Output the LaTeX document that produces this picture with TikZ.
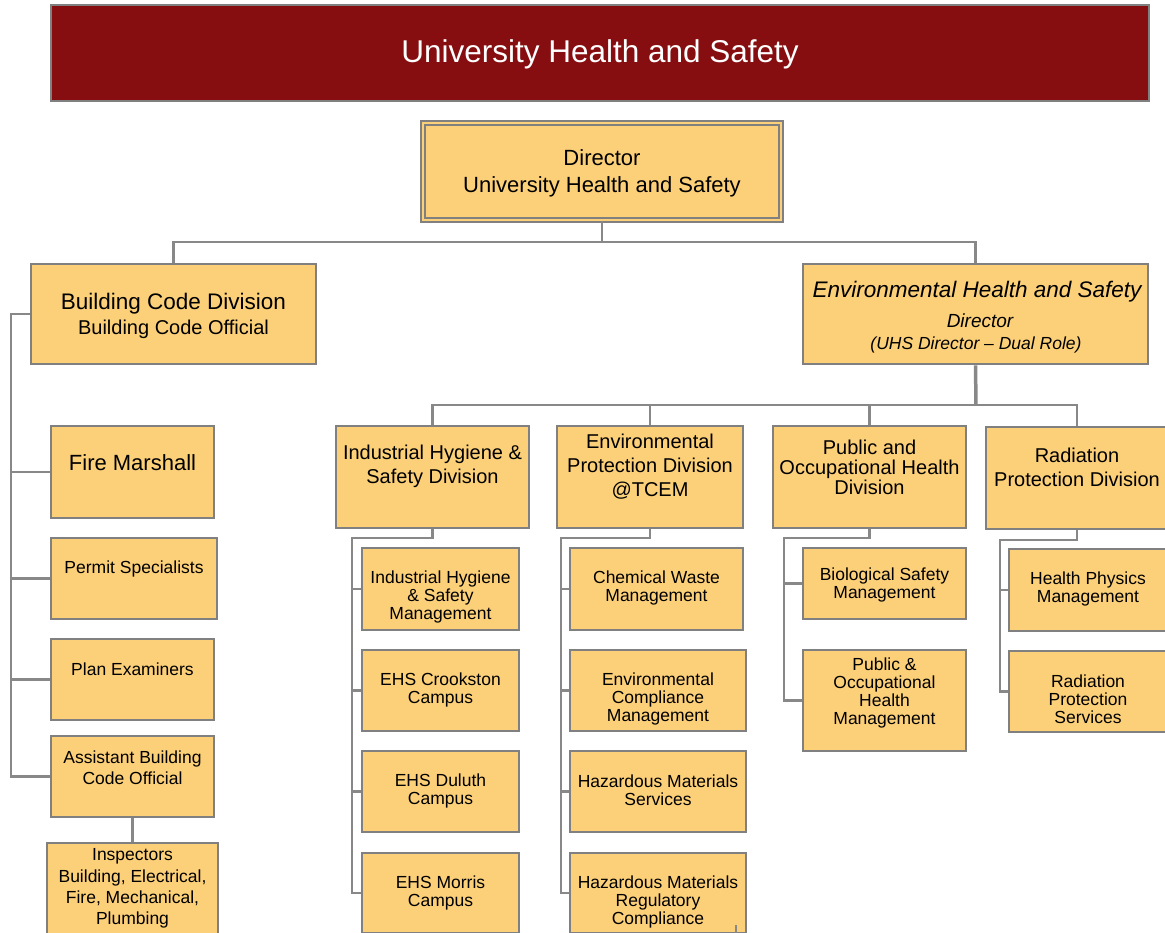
\documentclass[tikz,border=0pt]{standalone}
\usepackage{fontspec}
\setmainfont{Liberation Sans}
\usetikzlibrary{fit}
\definecolor{boxfill}{RGB}{252,208,121}
\definecolor{boxline}{RGB}{128,128,128}
\definecolor{conncol}{RGB}{136,136,136}
\definecolor{titlered}{RGB}{134,14,16}
\tikzset{
  box/.style={draw=boxline, line width=2.6pt, fill=boxfill, inner sep=0pt},
  conn/.style={draw=conncol, line width=2.6pt},
  txt/.style={align=center, text=black, inner sep=0pt, yshift=-2.5pt},
  fsmall/.style={font=\fontsize{17.5}{18}\selectfont},
  fdiv/.style={font=\fontsize{20}{24}\selectfont},
}
\newcommand\obox[5]{\node[box, fit={(#2,#3) (#4,#5)}] (#1) {};}
\begin{document}
\begin{tikzpicture}[x=1pt,y=-1pt]
\useasboundingbox (0,0) rectangle (1165,932);
\clip (0,0) rectangle (1165,932);
% title
\node[draw=boxline, line width=2pt, fill=titlered, inner sep=0pt, fit={(51,5) (1149,101)}] (title) {};
\node[txt, text=white, font=\fontsize{31.5}{36}\selectfont] (titletxt) at (600,52) {University Health and Safety};
% director
\node[draw=boxline, line width=1.6pt, double=boxfill, double distance=2.2pt, fill=boxfill, inner sep=0pt, fit={(423,123) (781,220)}] (dir) {};
\node[txt, font=\fontsize{22}{27}\selectfont] (dirtxt) at (602,170.5) {Director\\University Health and Safety};
% level 1
\obox{bcd}{31}{264}{316}{364}
\node[txt, font=\fontsize{22.5}{27}\selectfont] (bcdt1) at (173.5,301) {Building Code Division};
\node[txt, font=\fontsize{20}{24}\selectfont] (bcdt2) at (173.5,327) {Building Code Official};
\obox{ehs}{803}{264}{1148}{364}
\node[txt, font=\fontsize{22.5}{27}\selectfont\itshape] (ehst1) at (977,289) {Environmental Health and Safety};
\node[txt, font=\fontsize{19}{23}\selectfont\itshape] (ehst2) at (980,318) {Director};
\node[txt, font=\fontsize{17.5}{21}\selectfont\itshape] (ehst3) at (976,342) {(UHS Director – Dual Role)};
\coordinate (b1) at (602,242);
\draw[conn] (dir.south) -- (b1);
\draw[conn] (bcd.north) |- (b1) -| (ehs.north);
% building code branch
\obox{fm}{51}{426}{214}{518}
\node[txt, font=\fontsize{22}{26}\selectfont] (fmt) at (132.5,460) {Fire Marshall};
\obox{ps}{51}{538}{217}{619}
\node[txt, fsmall] (pst) at (134,566) {Permit Specialists};
\obox{pe}{51}{639}{214}{720}
\node[txt, fsmall] (pet) at (132.5,667) {Plan Examiners};
\obox{abco}{51}{736}{214}{817}
\node[txt, font=\fontsize{17.5}{21}\selectfont] (abcot) at (132.5,765.5) {Assistant Building\\Code Official};
\obox{insp}{47}{843}{218}{945}
\node[txt, font=\fontsize{17.5}{21.3}\selectfont] (inspt) at (132.5,886) {Inspectors\\Building, Electrical,\\Fire, Mechanical,\\Plumbing};
\coordinate (lv) at (11,314);
\draw[conn] (bcd.west) -- (lv) |- (abco.west);
\draw[conn] (lv |- fm.west) -- (fm.west);
\draw[conn] (lv |- ps.west) -- (ps.west);
\draw[conn] (lv |- pe.west) -- (pe.west);
\draw[conn] (abco.south) -- (insp.north);
% divisions
\obox{ihs}{336}{426}{529}{528}
\node[txt, fdiv] (ihst) at (432.5,464) {Industrial Hygiene \&\\Safety Division};
\obox{epd}{557}{426}{743}{528}
\node[txt, fdiv] (epdt) at (650,464) {Environmental\\Protection Division\\@TCEM};
\obox{pohd}{773}{426}{966}{528}
\node[txt, font=\fontsize{20}{20}\selectfont] (pohdt) at (869.5,465) {Public and\\Occupational Health\\Division};
\obox{rpd}{986}{427}{1168}{529}
\node[txt, fdiv] (rpdt) at (1077,465) {Radiation\\Protection Division};
\coordinate (b2) at (976,405);
\draw[conn, line width=3.5pt] (ehs.south) -- (b2);
\draw[conn] (ihs.north) |- (b2) -| (rpd.north);
\draw[conn] (epd.north) -- (epd.north |- b2);
\draw[conn] (pohd.north) -- (pohd.north |- b2);
% IHS sub
\obox{ihsm}{362}{548}{519}{630}
\node[txt, fsmall] (ihsmt) at (440.5,594) {Industrial Hygiene\\\& Safety\\Management};
\obox{crk}{362}{650}{519}{731}
\node[txt, fsmall] (crkt) at (440.5,687) {EHS Crookston\\Campus};
\obox{dul}{362}{751}{519}{832}
\node[txt, fsmall] (dult) at (440.5,788) {EHS Duluth\\Campus};
\obox{mor}{362}{853}{519}{933}
\node[txt, fsmall] (mort) at (440.5,890) {EHS Morris\\Campus};
\coordinate (v1) at (352,538);
\draw[conn] (ihs.south) |- (v1) |- (mor.west);
\draw[conn] (v1 |- ihsm.west) -- (ihsm.west);
\draw[conn] (v1 |- crk.west) -- (crk.west);
\draw[conn] (v1 |- dul.west) -- (dul.west);
% EPD sub
\obox{cwm}{570}{548}{743}{630}
\node[txt, fsmall] (cwmt) at (656.5,585) {Chemical Waste\\Management};
\obox{ecm}{570}{650}{746}{731}
\node[txt, fsmall] (ecmt) at (658,696) {Environmental\\Compliance\\Management};
\obox{hms}{570}{751}{746}{832}
\node[txt, fsmall] (hmst) at (658,788) {Hazardous Materials\\Services};
\obox{hmrc}{570}{853}{746}{933}
\node[txt, fsmall] (hmrct) at (658,899) {Hazardous Materials\\Regulatory\\Compliance};
\coordinate (v2) at (561,538);
\draw[conn] (epd.south) |- (v2) |- (hmrc.west);
\draw[conn] (v2 |- cwm.west) -- (cwm.west);
\draw[conn] (v2 |- ecm.west) -- (ecm.west);
\draw[conn] (v2 |- hms.west) -- (hms.west);
\coordinate (stubtop) at (736,925);
\coordinate (stubbot) at (736,940);
\draw[conn, line width=1.5pt] (stubtop) -- (stubbot);
% POHD sub
\obox{bio}{803}{548}{966}{619}
\node[txt, fsmall] (biot) at (884.5,582) {Biological Safety\\Management};
\obox{pohm}{803}{650}{966}{751}
\node[txt, fsmall] (pohmt) at (884.5,690) {Public \&\\Occupational\\Health\\Management};
\coordinate (v3) at (784,538);
\draw[conn] (pohd.south) |- (v3) |- (pohm.west);
\draw[conn] (v3 |- bio.west) -- (bio.west);
% RPD sub
\obox{hpm}{1009}{549}{1170}{631}
\node[txt, fsmall] (hpmt) at (1088,586) {Health Physics\\Management};
\obox{rps}{1009}{651}{1170}{732}
\node[txt, fsmall] (rpst) at (1088,697) {Radiation\\Protection\\Services};
\coordinate (v4) at (1000,540);
\draw[conn] (rpd.south) |- (v4) |- (rps.west);
\draw[conn] (v4 |- hpm.west) -- (hpm.west);
\end{tikzpicture}
\end{document}
